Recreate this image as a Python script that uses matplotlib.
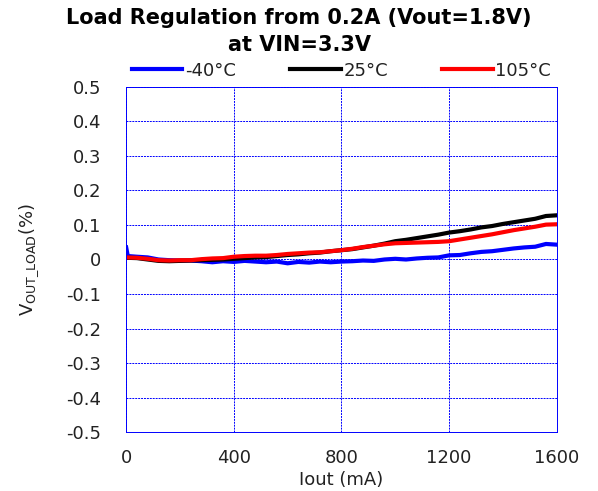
import matplotlib.pyplot as plt

# Data
iout = list(range(0, 1601, 40))
iout_cold = [0, 6] + iout[1:]

v_cold = [0.035, 0.010, 0.008, 0.006, 0.000, -0.002, -0.003, -0.003, -0.005, -0.008, -0.005,
          -0.007, -0.004, -0.006, -0.008, -0.006, -0.011, -0.007, -0.009, -0.006, -0.008,
          -0.006, -0.005, -0.003, -0.004, 0.000, 0.002, 0.000, 0.003, 0.005, 0.006,
          0.012, 0.013, 0.018, 0.022, 0.024, 0.028, 0.032, 0.035, 0.037, 0.045, 0.043]
v_room = [0.005, 0.004, 0.000, -0.004, -0.005, -0.004, -0.003, -0.002, -0.001, 0.000,
          0.002, 0.004, 0.006, 0.007, 0.010, 0.013, 0.015, 0.018, 0.020, 0.024,
          0.027, 0.030, 0.035, 0.040, 0.046, 0.053, 0.057, 0.062, 0.067, 0.072,
          0.078, 0.082, 0.087, 0.093, 0.097, 0.103, 0.108, 0.113, 0.118, 0.126, 0.128]
v_hot = [0.006, 0.005, 0.002, -0.002, -0.003, -0.002, -0.002, 0.001, 0.003, 0.004,
         0.008, 0.010, 0.011, 0.011, 0.013, 0.016, 0.018, 0.020, 0.021, 0.024,
         0.027, 0.031, 0.036, 0.040, 0.044, 0.047, 0.048, 0.049, 0.050, 0.051,
         0.053, 0.058, 0.063, 0.068, 0.073, 0.079, 0.085, 0.090, 0.095, 0.101, 0.102]

plt.rcParams['font.family'] = ['DejaVu Sans']

fig = plt.figure(figsize=(5.98, 4.91), dpi=100)
ax = fig.add_axes([0.211, 0.12, 0.72, 0.703])

ax.plot(iout_cold, v_cold, color='#0000ff', lw=3, label='-40°C')
ax.plot(iout, v_room, color='black', lw=3, label='25°C')
ax.plot(iout, v_hot, color='#ff0000', lw=3, label='105°C')

ax.set_xlim(0, 1600)
ax.set_ylim(-0.5, 0.5)
ax.set_xticks([0, 400, 800, 1200, 1600])
ax.set_yticks([-0.5, -0.4, -0.3, -0.2, -0.1, 0, 0.1, 0.2, 0.3, 0.4, 0.5])
ax.set_yticklabels(['-0.5', '-0.4', '-0.3', '-0.2', '-0.1', '0',
                    '0.1', '0.2', '0.3', '0.4', '0.5'])
ax.tick_params(length=0, labelsize=13, labelcolor='#222222')
ax.tick_params(axis='y', pad=18)
ax.tick_params(axis='x', pad=12)

ax.grid(True, color='#0000ff', linestyle=(0, (2, 1)), lw=0.7)
for s in ax.spines.values():
    s.set_color('#0000ff')
    s.set_linestyle((0, (2, 1)))
    s.set_linewidth(0.7)

ax.set_xlabel('Iout (mA)', fontsize=13, labelpad=3, color='#222222')
ax.set_ylabel(r'V$_{\mathregular{OUT\_LOAD}}$(%)', fontsize=13, labelpad=18,
              color='#222222')

fig.suptitle('Load Regulation from 0.2A (Vout=1.8V)\nat VIN=3.3V',
             fontsize=15, fontweight='bold', y=0.983, linespacing=1.4)

ax.legend(loc='lower center', bbox_to_anchor=(0.5, 1.0), ncol=3, frameon=False,
          fontsize=13, handlelength=2.8, handletextpad=0.15, columnspacing=3.0,
          borderaxespad=0.0, labelcolor='#222222')

plt.savefig('out.png')
